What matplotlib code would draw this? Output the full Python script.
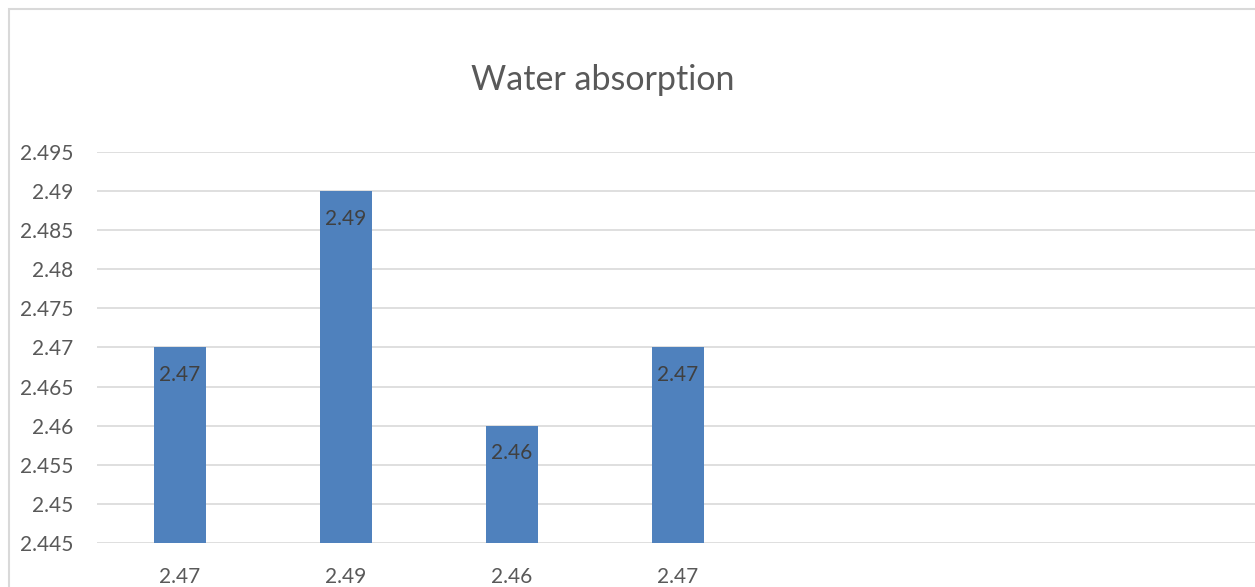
import matplotlib.pyplot as plt
from matplotlib.patches import Rectangle

# Chart data
categories = ["2.47", "2.49", "2.46", "2.47", "", "", ""]
values = [2.47, 2.49, 2.46, 2.47, None, None, None]
y_ticks = [2.445, 2.45, 2.455, 2.46, 2.465, 2.47, 2.475, 2.48, 2.485, 2.49, 2.495]

plt.rcParams['font.family'] = ['Lato', 'DejaVu Sans']

W, H = 1255, 587
fig = plt.figure(figsize=(W / 100, H / 100), dpi=100)

# chart border (cropped at right and bottom like the reference)
fig.patches.append(Rectangle((9 / W, -0.1), 1.1, 1 - 9 / H + 0.1, transform=fig.transFigure,
                             fill=False, edgecolor='#D9D9D9', linewidth=1.5))

left, right, top, bottom = 97, 1259, 152, 543
ax = fig.add_axes([left / W, 1 - bottom / H, (right - left) / W, (bottom - top) / H])

xs = [i for i, v in enumerate(values) if v is not None]
ys = [v for v in values if v is not None]
ax.bar(xs, [v - 2.445 for v in ys], bottom=2.445, width=0.31, color='#4F81BD', zorder=3)

for x, v in zip(xs, ys):
    ax.annotate(f"{v:g}", (x, v), xytext=(0, -20), textcoords='offset points',
                ha='center', va='center', fontsize=15, color='#404040', zorder=4)

ax.set_xlim(-0.5, len(categories) - 0.5)
ax.set_ylim(2.445, 2.495)
ax.set_yticks(y_ticks)
ax.set_yticklabels([f"{t:g}" for t in y_ticks])
ax.set_xticks(range(len(categories)))
ax.set_xticklabels(categories)
ax.tick_params(axis='both', length=0, labelsize=15, labelcolor='#595959')
ax.tick_params(axis='y', pad=17)
ax.tick_params(axis='x', pad=17)
ax.grid(axis='y', color='#D9D9D9', linewidth=1.2, zorder=0)
for s in ax.spines.values():
    s.set_visible(False)

fig.text(603 / W, 1 - 80 / H, "Water absorption", ha='center', va='center',
         fontsize=24.5, color='#595959')

fig.savefig("out.png", dpi=100)
